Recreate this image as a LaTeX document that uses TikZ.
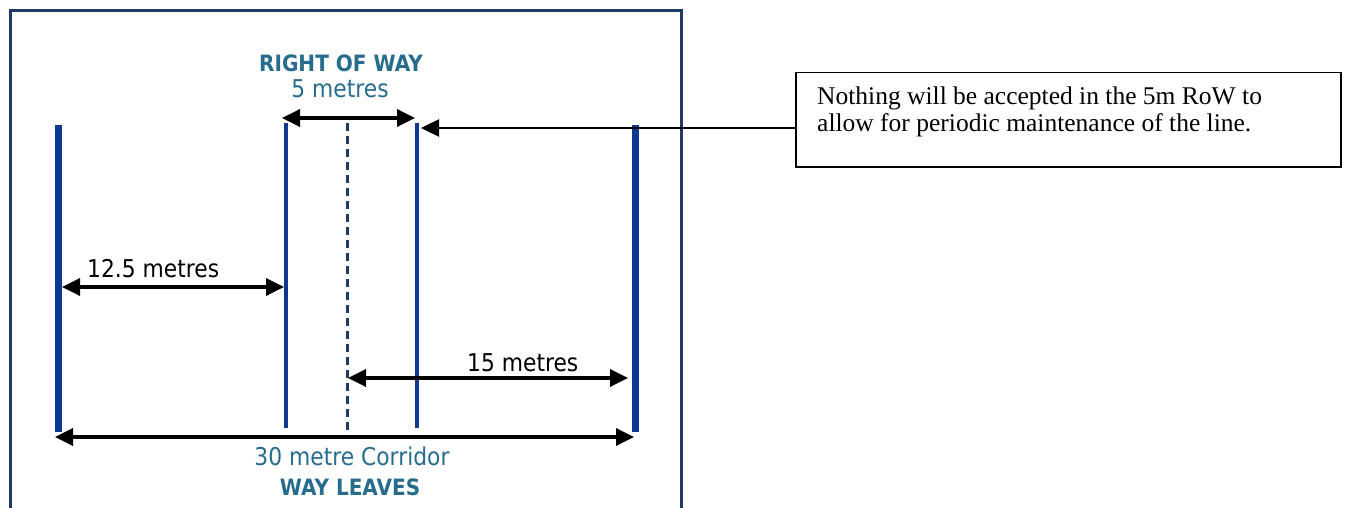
\documentclass[tikz,border=0pt]{standalone}
\usepackage{fontspec}
\setmainfont{Liberation Serif}
\newfontfamily\labfont[FakeStretch=0.89]{DejaVu Sans}
\usetikzlibrary{arrows.meta}
\definecolor{framenavy}{RGB}{31,58,100}
\definecolor{lineblue}{RGB}{12,58,145}
\definecolor{tealtext}{RGB}{38,108,140}
\tikzset{
  thickpole/.style={draw=lineblue, line width=7pt},
  thinpole/.style={draw=lineblue, line width=3.5pt},
  centreline/.style={draw=framenavy, line width=3pt, dash pattern=on 8pt off 5pt},
  dimarrow/.style={draw=black, line width=3.5pt, {Triangle[length=18pt,width=17pt]}-{Triangle[length=18pt,width=17pt]}},
  callarrow/.style={draw=black, line width=2.5pt, -{Triangle[length=18pt,width=17pt]}},
  teallabel/.style={text=tealtext, font=\labfont\fontsize{24.5}{27}\selectfont, inner sep=0pt},
  tealbold/.style={text=tealtext, font=\labfont\bfseries\fontsize{22.5}{25}\selectfont, inner sep=0pt},
  blacklabel/.style={text=black, font=\labfont\fontsize{24.5}{27}\selectfont, inner sep=0pt},
}
\begin{document}
\begin{tikzpicture}[x=1pt,y=-1pt]
\useasboundingbox (0,0) rectangle (1346,508);
% frame
\draw[framenavy, line width=3pt] (10,512) -- (10,11) -- (681,11) -- (681,512);
% poles
\coordinate (l1t) at (58,125);  \coordinate (l1b) at (58,432);
\coordinate (l2t) at (286,123); \coordinate (l2b) at (286,428);
\coordinate (ct)  at (347,123); \coordinate (cb)  at (347,432);
\coordinate (l3t) at (417,123); \coordinate (l3b) at (417,428);
\coordinate (l4t) at (635,125); \coordinate (l4b) at (635,432);
\draw[thickpole] (l1t) -- (l1b);
\draw[thinpole] (l2t) -- (l2b);
\draw[centreline] (ct) -- (cb);
\draw[thinpole] (l3t) -- (l3b);
\draw[thickpole] (l4t) -- (l4b);
% labels
\node[tealbold, anchor=base] (row) at (341,72) {RIGHT OF WAY};
\node[teallabel, anchor=base] (five) at (340,98) {5 metres};
\node[blacklabel, anchor=base west] (twelve) at (87,277) {12.5 metres};
\node[blacklabel, anchor=base west] (fifteen) at (467,371) {15 metres};
\node[teallabel, anchor=base] (thirty) at (352,465) {30 metre Corridor};
\node[tealbold, anchor=base] (way) at (350,495) {WAY LEAVES};
% dimension arrows
\coordinate (a5l) at (282,118);  \coordinate (a5r) at (415,118);
\coordinate (a12l) at (62,287);  \coordinate (a12r) at (284,287);
\coordinate (a15l) at (348,378); \coordinate (a15r) at (628,378);
\coordinate (a30l) at (55,437);  \coordinate (a30r) at (634,437);
\draw[dimarrow] (a5l) -- (a5r);
\draw[dimarrow] (a12l) -- (a12r);
\draw[dimarrow] (a15l) -- (a15r);
\draw[dimarrow] (a30l) -- (a30r);
% callout
\node[draw=black, line width=1.5pt, anchor=north west, minimum width=545pt, minimum height=94pt, inner sep=0pt] (note) at (795,72) {};
\node[anchor=north west, align=left, inner sep=0pt, font=\fontsize{25.5}{26.5}\selectfont] (notetext) at (817,87)
  {Nothing will be accepted in the 5m RoW to\\allow for periodic maintenance of the line.};
\coordinate (tipl3) at (421,128);
\draw[callarrow] (note.west |- tipl3) -- (tipl3);
\end{tikzpicture}
\end{document}
